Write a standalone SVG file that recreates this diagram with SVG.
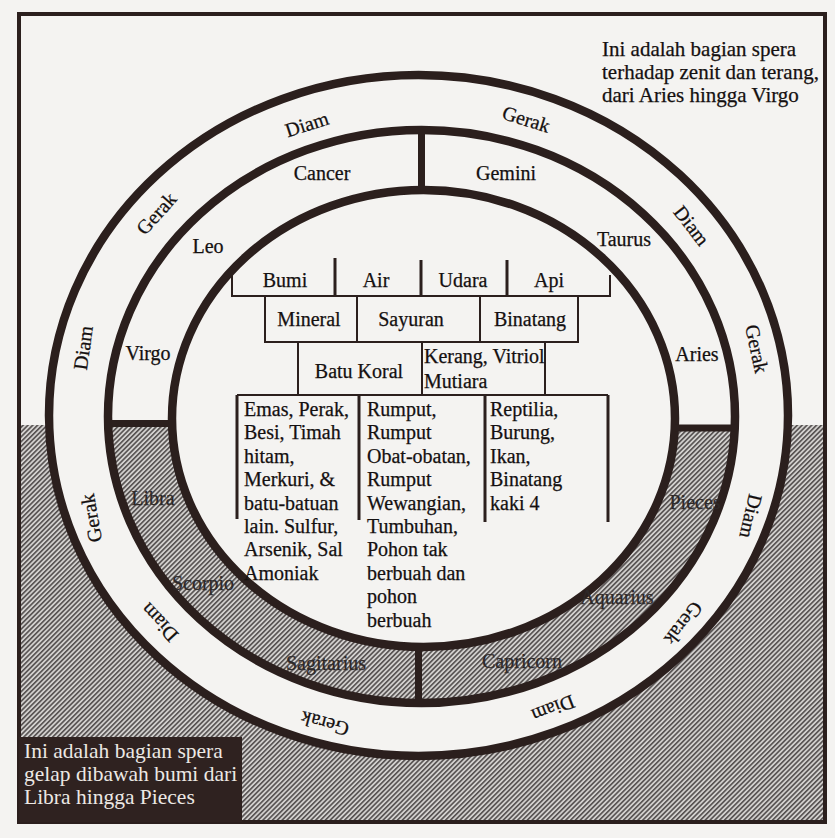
<svg xmlns="http://www.w3.org/2000/svg" width="835" height="838" viewBox="0 0 835 838">
<style>
  .ring{fill:none;stroke:#2b1f1d;stroke-width:8.5}
  .div{stroke:#2b1f1d;stroke-width:7;fill:none}
  .tb{fill:none;stroke:#2b1f1d;stroke-width:2}
  .tbv{stroke:#2b1f1d;stroke-width:3;fill:none}
  text{font-family:"Liberation Serif","Times New Roman",serif;font-size:20px;fill:#141010;stroke:#141010;stroke-width:0.25}
  .c{text-anchor:middle}
  .h{fill:#2e2929;stroke:#2e2929}
  .note{font-size:21px}
  .dark{font-size:21.5px;fill:#ece8e4;stroke:none}
  .paper{fill:#f4f3f1}
</style>
<defs>
  <pattern id="hatch" width="3.4" height="3.4" patternUnits="userSpaceOnUse" patternTransform="rotate(45)">
    <rect width="3.4" height="3.4" fill="#d2d0ce"/>
    <rect width="1.6" height="3.4" fill="#555050"/>
  </pattern>
  <clipPath id="lower"><rect x="19" y="425" width="806" height="397"/></clipPath>
</defs>

<rect width="835" height="838" class="paper"/>

<g id="dark-hemisphere" clip-path="url(#lower)">
  <rect x="19" y="425" width="806" height="397" fill="url(#hatch)"/>
  <ellipse cx="418.5" cy="415.5" rx="369.5" ry="340.5" class="paper"/>
  <ellipse cx="421.5" cy="416.5" rx="313.5" ry="286.5" fill="url(#hatch)"/>
  <ellipse cx="423.5" cy="418.5" rx="251.5" ry="228.5" class="paper"/>
</g>

<rect id="frame" x="19" y="14" width="806" height="808" fill="none" stroke="#2b1f1d" stroke-width="4"/>

<g id="connectors">
  <ellipse class="ring" cx="418.5" cy="415.5" rx="369.5" ry="340.5"/>
  <ellipse class="ring" cx="421.5" cy="416.5" rx="313.5" ry="286.5"/>
  <ellipse class="ring" cx="423.5" cy="418.5" rx="251.5" ry="228.5"/>
  <line class="div" x1="421.5" y1="130" x2="421.5" y2="190"/>
  <line class="div" x1="418.5" y1="647" x2="418.5" y2="703"/>
  <line class="div" x1="108" y1="423.5" x2="172" y2="423.5"/>
  <line class="div" x1="675" y1="428" x2="735" y2="428"/>
</g>

<g id="elements">
  <path class="tb" d="M232,270 V296 H610 V275"/>
  <line class="tbv" x1="335" y1="258" x2="335" y2="296"/>
  <line class="tbv" x1="421" y1="260" x2="421" y2="296"/>
  <line class="tbv" x1="507" y1="260" x2="507" y2="296"/>
  <text class="c" x="285" y="287">Bumi</text>
  <text class="c" x="376" y="287">Air</text>
  <text class="c" x="463" y="287">Udara</text>
  <text class="c" x="549" y="287">Api</text>
</g>

<g id="kingdoms">
  <rect class="tb" x="265" y="296" width="313" height="46"/>
  <line class="tb" x1="357" y1="296" x2="357" y2="342"/>
  <line class="tb" x1="480" y1="296" x2="480" y2="342"/>
  <text class="c" x="309" y="326">Mineral</text>
  <text class="c" x="411" y="326">Sayuran</text>
  <text class="c" x="530" y="326">Binatang</text>
</g>

<g id="transitions">
  <rect class="tb" x="298" y="342" width="247" height="53"/>
  <line class="tb" x1="422" y1="342" x2="422" y2="395"/>
  <text class="c" x="359" y="378">Batu Koral</text>
  <text x="424" y="363">Kerang, Vitriol</text>
  <text x="424" y="388">Mutiara</text>
</g>

<g id="members">
  <line class="tb" x1="237" y1="395" x2="608" y2="395"/>
  <line class="tbv" x1="237" y1="395" x2="237" y2="519"/>
  <line class="tbv" x1="359" y1="395" x2="359" y2="520"/>
  <line class="tbv" x1="485" y1="395" x2="485" y2="522"/>
  <line class="tbv" x1="608" y1="395" x2="608" y2="522"/>
  <text x="244" y="416">Emas, Perak,</text>
  <text x="244" y="439.4">Besi, Timah</text>
  <text x="244" y="462.8">hitam,</text>
  <text x="244" y="486.2">Merkuri, &amp;</text>
  <text x="244" y="509.6">batu-batuan</text>
  <text x="244" y="533">lain. Sulfur,</text>
  <text x="244" y="556.4">Arsenik, Sal</text>
  <text x="244" y="579.8">Amoniak</text>
  <text x="367" y="416">Rumput,</text>
  <text x="367" y="439.4">Rumput</text>
  <text x="367" y="462.8">Obat-obatan,</text>
  <text x="367" y="486.2">Rumput</text>
  <text x="367" y="509.6">Wewangian,</text>
  <text x="367" y="533">Tumbuhan,</text>
  <text x="367" y="556.4">Pohon tak</text>
  <text x="367" y="579.8">berbuah dan</text>
  <text x="367" y="603.2">pohon</text>
  <text x="367" y="626.6">berbuah</text>
  <text x="490" y="416">Reptilia,</text>
  <text x="490" y="439.4">Burung,</text>
  <text x="490" y="462.8">Ikan,</text>
  <text x="490" y="486.2">Binatang</text>
  <text x="490" y="509.6">kaki 4</text>
</g>

<g id="zodiac">
  <text class="c" x="322" y="180">Cancer</text>
  <text class="c" x="506" y="180">Gemini</text>
  <text class="c" x="208" y="253">Leo</text>
  <text class="c" x="624" y="246">Taurus</text>
  <text class="c" x="148" y="360">Virgo</text>
  <text class="c" x="697" y="361">Aries</text>
  <text class="c h" x="153" y="505">Libra</text>
  <text class="c h" x="695" y="509">Pieces</text>
  <text class="c h" x="203" y="590">Scorpio</text>
  <text class="c h" x="617" y="604">Aquarius</text>
  <text class="c h" x="326" y="670">Sagitarius</text>
  <text class="c h" x="522" y="668">Capricorn</text>
</g>

<g id="states">
  <text class="c" transform="translate(307,125) rotate(-18)" y="6">Diam</text>
  <text class="c" transform="translate(526,120) rotate(17)" y="6">Gerak</text>
  <text class="c" transform="translate(157,214) rotate(-48)" y="6">Gerak</text>
  <text class="c" transform="translate(691,226) rotate(52)" y="6">Diam</text>
  <text class="c" transform="translate(84,348) rotate(-82)" y="6">Diam</text>
  <text class="c" transform="translate(756,349) rotate(78)" y="6">Gerak</text>
  <text class="c" transform="translate(92,518) rotate(-100)" y="6">Gerak</text>
  <text class="c" transform="translate(750,516) rotate(103)" y="6">Diam</text>
  <text class="c" transform="translate(160,622) rotate(227)" y="6">Diam</text>
  <text class="c" transform="translate(683,623) rotate(128)" y="6">Gerak</text>
  <text class="c" transform="translate(325,723) rotate(195)" y="6">Gerak</text>
  <text class="c" transform="translate(553,708) rotate(159)" y="6">Diam</text>
</g>

<g id="note-light">
  <text class="note" x="602" y="56">Ini adalah bagian spera</text>
  <text class="note" x="602" y="79">terhadap zenit dan terang,</text>
  <text class="note" x="602" y="102">dari Aries hingga Virgo</text>
</g>

<g id="note-dark">
  <rect x="19" y="737" width="223" height="85" fill="#2f2220"/>
  <text class="dark" x="24" y="758">Ini adalah bagian spera</text>
  <text class="dark" x="24" y="781">gelap dibawah bumi dari</text>
  <text class="dark" x="24" y="804">Libra hingga Pieces</text>
</g>
</svg>
